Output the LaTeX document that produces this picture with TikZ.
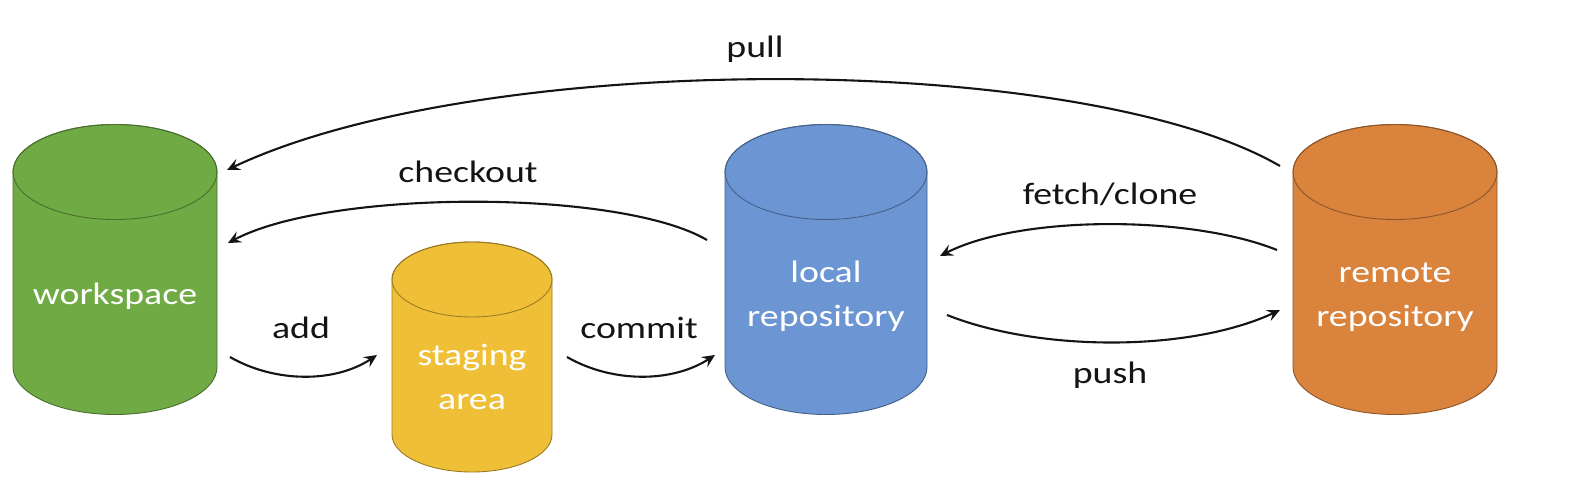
\documentclass[tikz,border=0pt]{standalone}
\usepackage{fontspec}
\setmainfont{Carlito}
\usetikzlibrary{arrows.meta}
\definecolor{cgreen}{HTML}{70AA45}
\definecolor{cyellow}{HTML}{EEBF37}
\definecolor{cblue}{HTML}{6B96D3}
\definecolor{corange}{HTML}{D9833D}
\definecolor{ink}{HTML}{141414}
\newcommand\mycyl[6]{%
  \filldraw[fill=#6, draw=#6!65!black, line width=0.9pt]
    (#1-#4,#2) -- (#1-#4,#3) arc[start angle=180,end angle=0,x radius=#4,y radius=#5]
    -- (#1+#4,#2) arc[start angle=0,end angle=-180,x radius=#4,y radius=#5] -- cycle;
  \draw[draw=#6!65!black, line width=0.9pt] (#1,#2) ellipse[x radius=#4, y radius=#5];
}
\begin{document}
\begin{tikzpicture}[x=1pt,y=-1pt,
  cyltext/.style={text=white, font=\fontsize{31}{44}\selectfont, align=center, xscale=1.22, inner sep=0pt},
  lbl/.style={text=ink, font=\fontsize{31}{40}\selectfont, xscale=1.22, inner sep=0pt, anchor=base},
  flow/.style={draw=ink, line width=2.1pt, -{Stealth[length=13pt,width=12pt,inset=5pt]}}
]
\useasboundingbox (0,0) rectangle (1584,500);
\fill[white] (0,0) rectangle (1584,500);

% cylinders
\mycyl{115}{172}{367}{102}{47.5}{cgreen}
\mycyl{472}{279.5}{434.5}{80}{37.5}{cyellow}
\mycyl{826}{172}{367}{101}{47.5}{cblue}
\mycyl{1395}{172}{367}{102}{47.5}{corange}

% texts
\node[cyltext] (ws) at (115,296) {workspace};
\node[cyltext] (st) at (472,377) {staging\\area};
\node[cyltext] (lr) at (826,296) {local\\repository};
\node[cyltext] (rr) at (1395,297) {remote\\repository};

% connectors
\draw[flow] ([shift={(-115,-131)}]rr.center) .. controls (1080,50) and (480,50) .. ([shift={(112,-126)}]ws.center);
\draw[flow] ([shift={(-119,-56)}]lr.center) .. controls (620,189) and (330,189) .. ([shift={(113,-53)}]ws.center);
\draw[flow] ([shift={(115,61)}]ws.center) .. controls (275,383) and (335,383) .. ([shift={(-95,-22)}]st.center);
\draw[flow] ([shift={(95,-20)}]st.center) .. controls (612,383) and (672,383) .. ([shift={(-111,59)}]lr.center);
\draw[flow] ([shift={(-118,-47)}]rr.center) .. controls (1190,215) and (1020,215) .. ([shift={(114,-40)}]lr.center);
\draw[flow] ([shift={(121,19)}]lr.center) .. controls (1040,352) and (1190,352) .. ([shift={(-115,13)}]rr.center);

% labels
\node[lbl] (lpull) at (755,58) {pull};
\node[lbl] (lcheckout) at (468,182) {checkout};
\node[lbl] (ladd) at (301,338) {add};
\node[lbl] (lcommit) at (639,338) {commit};
\node[lbl] (lfetch) at (1110,204) {fetch/clone};
\node[lbl] (lpush) at (1110,383) {push};
\end{tikzpicture}
\end{document}
